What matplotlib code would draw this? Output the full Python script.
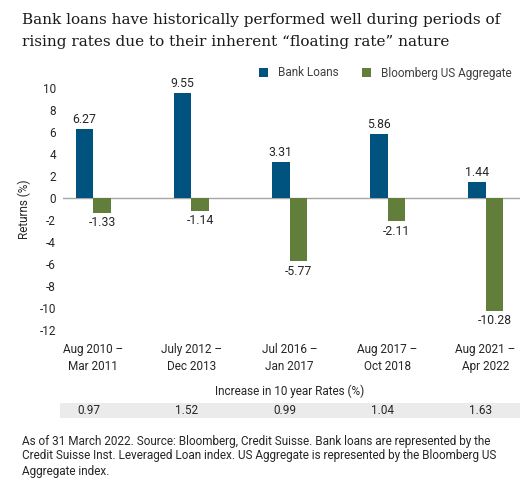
import matplotlib
matplotlib.use("Agg")
import matplotlib.pyplot as plt
import matplotlib.transforms as mtransforms
from matplotlib.patches import Rectangle
import numpy as np

periods = ["Aug 2010 –\nMar 2011", "July 2012 –\nDec 2013", "Jul 2016 –\nJan 2017",
           "Aug 2017 –\nOct 2018", "Aug 2021 –\nApr 2022"]
bank_loans = [6.27, 9.55, 3.31, 5.86, 1.44]
us_agg = [-1.33, -1.14, -5.77, -2.11, -10.28]
rate_increase = [0.97, 1.52, 0.99, 1.04, 1.63]
yticks = [10, 8, 6, 4, 2, 0, -2, -4, -6, -8, -10, -12]

BLUE = "#00537f"
GREEN = "#617f3b"
TXT = "#262626"
SANS = ["Roboto", "DejaVu Sans"]

W, H = 529, 491
fig = plt.figure(figsize=(W / 100, H / 100), dpi=100)

def fx(px):
    return px / W

def fy(py):
    return 1 - py / H

# Title
for k, line in enumerate(["Bank loans have historically performed well during periods of",
                          "rising rates due to their inherent “floating rate” nature"]):
    fig.text(fx(22), fy(20 + 22 * k), line, family=["DejaVu Serif"], fontsize=11.0,
             color="#1a1a1a", va="center", ha="left")

ax_l, ax_r = 63, 520
ax_t, ax_b = 82.5, 335.5
ax = fig.add_axes([fx(ax_l), fy(ax_b), fx(ax_r - ax_l), (ax_b - ax_t) / H])

x = np.arange(len(periods))
bw = 0.18
ax.bar(x - bw / 2, bank_loans, bw, color=BLUE, label="Bank Loans", zorder=2)
ax.bar(x + bw / 2, us_agg, bw, color=GREEN, label="Bloomberg US Aggregate", zorder=2)
ax.axhline(0, color="#a6a6a6", lw=1.0, zorder=1)

for i in range(len(periods)):
    ax.text(x[i] - bw / 2, bank_loans[i] + 0.25, f"{bank_loans[i]:.2f}", ha="center", va="bottom",
            fontsize=8.8, family=SANS, color=TXT)
    ax.text(x[i] + bw / 2, us_agg[i] - 0.3, f"{us_agg[i]:.2f}", ha="center", va="top",
            fontsize=8.8, family=SANS, color=TXT)

ax.set_xlim(-0.31, 4.35)
ax.set_ylim(-12.5, 10.5)
ax.set_yticks(yticks)
ax.set_yticklabels([str(t) for t in yticks], family=SANS, fontsize=8.5, color=TXT)
ax.tick_params(axis="y", length=0, pad=5)
ax.set_xticks([])
for s in ax.spines.values():
    s.set_visible(False)
ax.set_ylabel("Returns (%)", family=SANS, fontsize=8.5, color=TXT, labelpad=6)

tr = mtransforms.blended_transform_factory(ax.transData, fig.transFigure)
for i, p in enumerate(periods):
    fig.text(x[i], fy(358), p, transform=tr, ha="center", va="center", fontsize=8.5,
             family=SANS, color=TXT, linespacing=1.45)

fig.text(fx(290), fy(391), "Increase in 10 year Rates (%)", ha="center", va="center",
         fontsize=8.5, family=SANS, color=TXT)
fig.patches.append(Rectangle((fx(60), fy(418)), fx(520 - 60), 15 / H, transform=fig.transFigure,
                             facecolor="#ebebeb", edgecolor="none", zorder=-1))
for i, v in enumerate(rate_increase):
    fig.text(x[i] - 0.05, fy(411), f"{v:.2f}", transform=tr, ha="center", va="center",
             fontsize=8.5, family=SANS, color=TXT, zorder=5)

# Legend
fig.legend(handles=ax.containers, labels=["Bank Loans", "Bloomberg US Aggregate"],
           loc="center right", bbox_to_anchor=(fx(522), fy(73)), ncol=2, frameon=False,
           prop={"family": SANS, "size": 8.5}, handlelength=0.8, handleheight=0.8,
           columnspacing=2.0, handletextpad=0.8, labelcolor="#404040")

foot = ["As of 31 March 2022. Source: Bloomberg, Credit Suisse. Bank loans are represented by the",
        "Credit Suisse Inst. Leveraged Loan index. US Aggregate is represented by the Bloomberg US",
        "Aggregate index."]
for k, line in enumerate(foot):
    fig.text(fx(22), fy(441 + 15 * k), line, ha="left", va="center", fontsize=8.5,
             family=SANS, color=TXT)

fig.savefig("out.png", dpi=100, facecolor="white")
